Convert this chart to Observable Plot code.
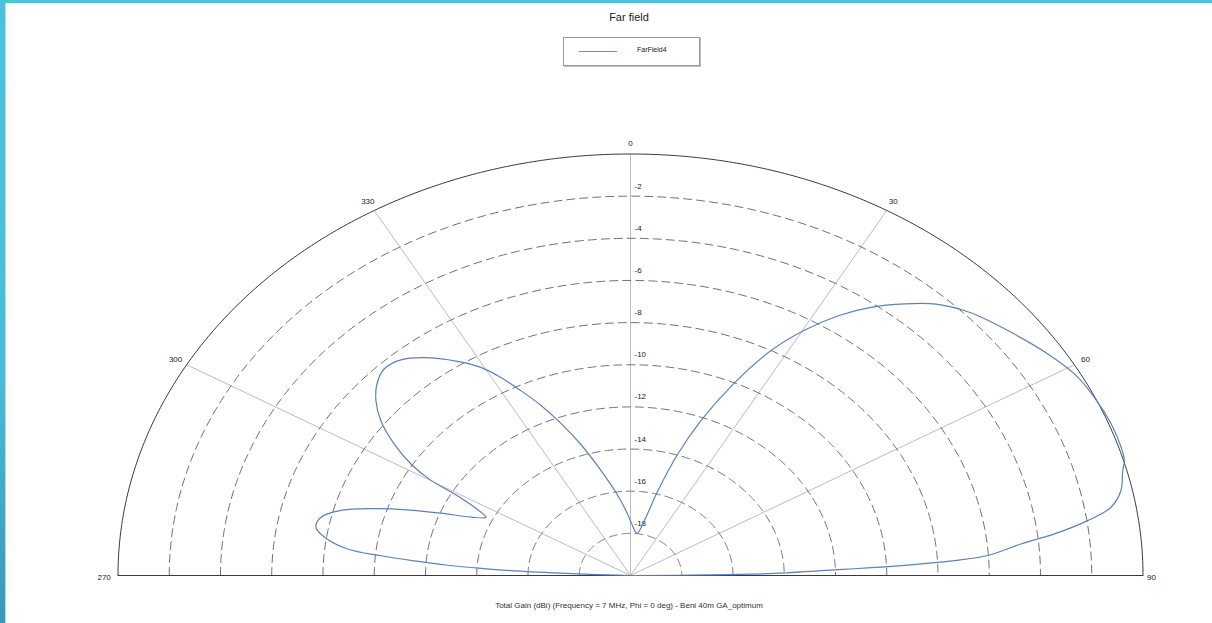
<!DOCTYPE html>
<html>
<head>
<meta charset="utf-8">
<script src="https://cdn.jsdelivr.net/npm/d3@7"></script>
<script src="https://cdn.jsdelivr.net/npm/@observablehq/plot@0.6"></script>
<style>
  html, body { margin: 0; padding: 0; background: #ffffff; width: 1212px; height: 623px; overflow: hidden; font-family: "Liberation Sans", Arial, sans-serif; }
  #bandLeft { position: absolute; left: 0; top: 0; width: 5px; height: 623px; background: linear-gradient(#4ac3da, #48bcd6 60%, #3a97b7); }
  #bandLeftLight { position: absolute; left: 5px; top: 3px; width: 1px; height: 620px; background: #a6e2ee; }
  #bandTop { position: absolute; left: 0; top: 0; width: 1212px; height: 3px; background: #4cc4db; }
  #title { position: absolute; left: 0; width: 1258px; top: 11px; text-align: center; font-size: 11px; color: #222; }
  #legend { position: absolute; left: 563px; top: 37px; width: 135px; height: 27px; border: 1px solid #9a9a9a; box-shadow: 1px 1px 0 #bdbdbd; background: #fff; }
  #legend .sw { position: absolute; left: 15px; top: 13px; width: 38px; height: 0; border-top: 1px solid #6b8cc0; }
  #legend .lb { position: absolute; left: 73px; top: 8px; font-size: 7px; color: #222; }
  #chart { position: absolute; left: 0; top: 80px; }
  #caption { position: absolute; left: 0; width: 1258px; top: 601px; text-align: center; font-size: 8px; color: #333; }
</style>
</head>
<body>
<div id="bandTop"></div>
<div id="bandLeft"></div>
<div id="bandLeftLight"></div>
<div id="title"></div>
<div id="legend"><div class="sw"></div><div class="lb"></div></div>
<div id="chart"></div>
<div id="caption"></div>
<script>
// ---- chart data ----
const titleText = "Far field";
const seriesName = "FarField4";
const captionText = "Total Gain (dBi) (Frequency = 7 MHz, Phi = 0 deg) - Beni 40m GA_optimum";

// theta in degrees (negative = 270..360), gain in dBi
const thetaDeg = [
  -90, -88.0, -87.5, -87.2, -86.7, -86.1, -85.3, -84.5, -83.5, -81.3,
  -79.4, -77.1, -74.7, -72.4, -70.3, -68.2, -66.0, -63.9, -62.0, -60.6,
  -59.9, -58.3, -55.9, -53.0, -50.1, -47.4, -44.4, -41.2, -37.9, -33.6,
  -30.6, -28.3, -26.0, -23.4, -20.6, -17.3, -13.0, -8.2, -3.3, 1.4,
  7.3, 11.6, 14.9, 17.8, 20.5, 23.9, 27.2, 30.2, 33.4, 36.4,
  39.7, 42.8, 46.0, 48.1, 52.6, 57.1, 61.1, 65.0, 69.0, 72.4,
  74.2, 75.5, 78.1, 80.2, 81.7, 83.2, 84.4, 86.1, 86.8, 87.2,
  87.6, 87.9, 88.2, 89.0, 89.5, 90
];
const gainDbi = [
  -20, -18.7, -16.77, -15.46, -14.16, -12.85, -11.54, -10.22, -8.89, -7.91,
  -7.51, -7.61, -8.29, -9.51, -10.76, -12.04, -13.19, -13.72, -13.1, -12.1,
  -11.0, -9.93, -8.86, -7.8, -7.05, -6.56, -6.27, -6.4, -6.9, -7.8,
  -8.53, -9.33, -10.24, -11.21, -12.29, -13.49, -14.89, -16.02, -16.91, -17.58,
  -17.99, -17.38, -15.83, -13.92, -12.15, -10.03, -8.0, -6.55, -5.22, -4.19,
  -3.25, -2.45, -1.9, -1.63, -1.14, -0.62, -0.21, -0.02, 0.09, 0.09,
  0.03, -0.16, -0.44, -0.97, -1.97, -3.34, -4.69, -6.03, -7.34, -8.65,
  -9.95, -11.26, -12.56, -14.4, -16.98, -20
];

const radialDomain = [-20, 0];
const ringTicks = [-2, -4, -6, -8, -10, -12, -14, -16, -18];
const ringLabels = ["-2", "-4", "-6", "-8", "-10", "-12", "-14", "-16", "-18"];
const spokeAngles = [0, 30, 60, 300, 330];
const angleTicks = [0, 30, 60, 90, 270, 300, 330];
const angleLabels = ["0", "30", "60", "90", "270", "300", "330"];

// ---- helpers ----
const rad = d => d * Math.PI / 180;
const rho = g => Math.max(0, (g - radialDomain[0]) / (radialDomain[1] - radialDomain[0]));
const px = (a, r) => r * Math.sin(rad(a));
const py = (a, r) => r * Math.cos(rad(a));

const pattern = thetaDeg.map((t, i) => ({t, g: gainDbi[i]}));

const arcSteps = d3.range(-90, 90.01, 0.5);
const rings = ringTicks.flatMap(g => arcSteps.map(a => ({g, a})));
const outer = arcSteps.map(a => ({g: radialDomain[1], a}));

const ringLab = ringTicks.map((g, i) => ({g, label: ringLabels[i]}));
const angLab = angleTicks.map((a, i) => ({a, label: angleLabels[i]}));
const rightLab = angLab.filter(d => d.a === 90);
const leftLab = angLab.filter(d => d.a === 270);
const topLab = angLab.filter(d => !(d.a === 90 || d.a === 270));

const chart = Plot.plot({
  width: 1212,
  height: 520,
  marginTop: 0, marginRight: 0, marginBottom: 0, marginLeft: 0,
  x: {domain: [-1, 1], range: [117.5, 1142.5], axis: null},
  y: {domain: [0, 1], range: [495, 73.5], axis: null},
  style: {background: "transparent", fontFamily: "Liberation Sans, Arial, sans-serif"},
  marks: [
    // spokes
    Plot.link(spokeAngles, {
      x1: 0, y1: 0,
      x2: a => px(a, 1), y2: a => py(a, 1),
      stroke: "#bdbdbd", strokeWidth: 1
    }),
    // dashed rings
    Plot.line(rings, {
      x: d => px(d.a, rho(d.g)), y: d => py(d.a, rho(d.g)), z: "g",
      stroke: "#6e6e6e", strokeWidth: 1, strokeDasharray: "8,5"
    }),
    // outer ring (0 dB)
    Plot.line(outer, {
      x: d => px(d.a, rho(d.g)), y: d => py(d.a, rho(d.g)),
      stroke: "#3a3a3a", strokeWidth: 1
    }),
    // baseline 270 - 90
    Plot.link([0], {x1: -1, y1: 0, x2: 1, y2: 0, stroke: "#3a3a3a", strokeWidth: 1.2}),
    // ring labels
    Plot.text(ringLab, {
      x: 0, y: d => rho(d.g), text: "label",
      textAnchor: "start", dx: 4, dy: -10, fontSize: 8, fill: "#222"
    }),
    // angle labels (upper)
    Plot.text(topLab, {
      x: d => px(d.a, 1.025), y: d => py(d.a, 1.025), text: "label",
      textAnchor: "middle", fontSize: 8, fill: "#222"
    }),
    // angle label 90
    Plot.text(rightLab, {
      x: d => px(d.a, 1.008), y: 0, text: "label",
      textAnchor: "start", dy: 2, fontSize: 8, fill: "#222"
    }),
    // angle label 270
    Plot.text(leftLab, {
      x: d => px(d.a, 1.014), y: 0, text: "label",
      textAnchor: "end", dy: 2, fontSize: 8, fill: "#222"
    }),
    // pattern
    Plot.line(pattern, {
      x: d => px(d.t, rho(d.g)), y: d => py(d.t, rho(d.g)),
      stroke: "#5f80b8", strokeWidth: 1.2, curve: "catmull-rom"
    })
  ]
});

document.getElementById("chart").appendChild(chart);
document.getElementById("title").textContent = titleText;
document.querySelector("#legend .lb").textContent = seriesName;
document.getElementById("caption").textContent = captionText;
</script>
</body>
</html>
